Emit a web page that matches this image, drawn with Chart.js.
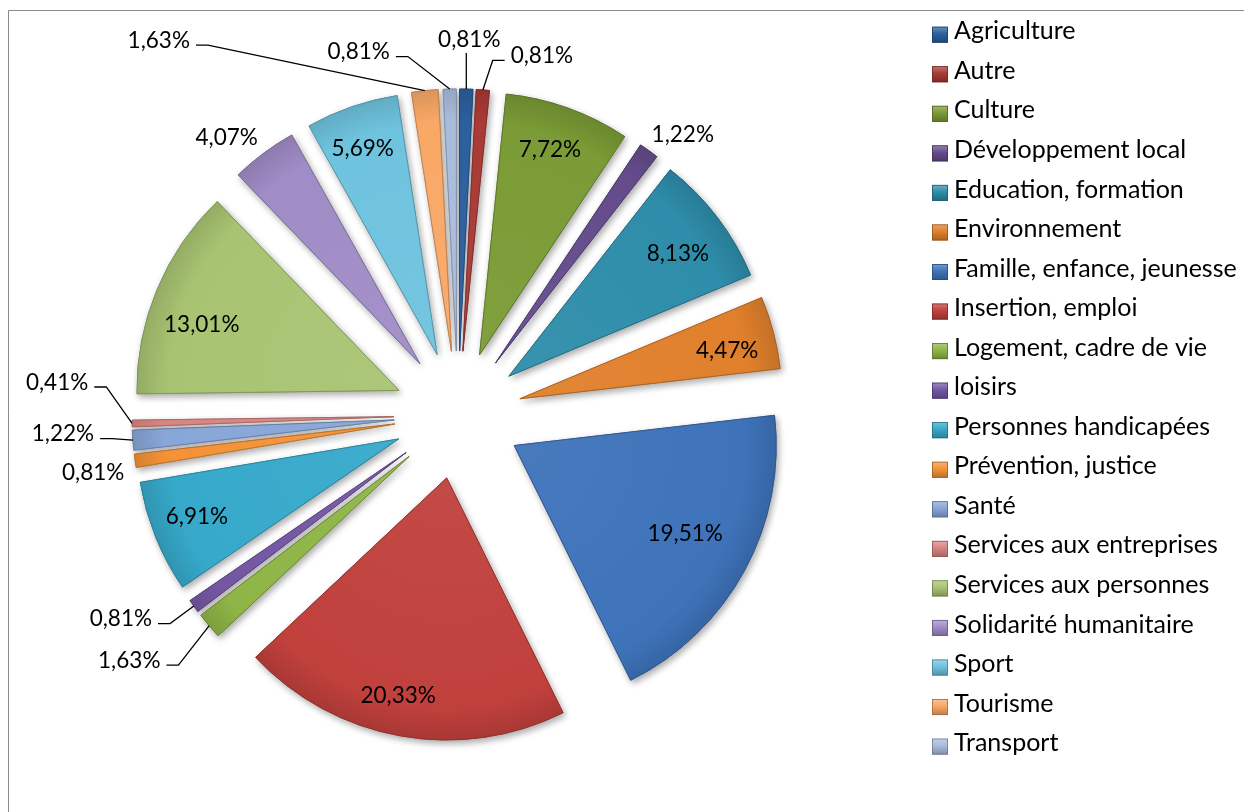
<!DOCTYPE html>
<html>
<head>
<meta charset="utf-8">
<script src="https://cdn.jsdelivr.net/npm/chart.js@4.4.1/dist/chart.umd.min.js"></script>
<style>
  html, body { margin: 0; padding: 0; background: #ffffff; }
  #wrap { position: relative; width: 1244px; height: 812px; }
  canvas { display: block; }
</style>
</head>
<body>
<div id="wrap"><canvas id="c" width="1244" height="812"></canvas></div>
<script>
// ---------- data ----------
const categories = [
  "Agriculture", "Autre", "Culture", "Développement local", "Education, formation",
  "Environnement", "Famille, enfance, jeunesse", "Insertion, emploi", "Logement, cadre de vie",
  "loisirs", "Personnes handicapées", "Prévention, justice", "Santé",
  "Services aux entreprises", "Services aux personnes", "Solidarité humanitaire",
  "Sport", "Tourisme", "Transport"
];
const shares = [0.81, 0.81, 7.72, 1.22, 8.13, 4.47, 19.51, 20.33, 1.63, 0.81, 6.91, 0.81, 1.22, 0.41, 13.01, 4.07, 5.69, 1.63, 0.81];
const sliceColors = [
  "#2C5F9E", "#A93A36", "#7A9B35", "#644C8C", "#2E8DAA",
  "#E0802C", "#3E73BA", "#C0403C", "#8EB546", "#7457A3",
  "#36A9CA", "#F59237", "#88A6D8", "#D98583", "#A8C472",
  "#A08CC6", "#6EC3DE", "#F9A866", "#A9BCDC"
];

// ---------- styling ----------
const FONT = 'Lato, "Open Sans", sans-serif';
const EXPLODE = 64;
const RADIUS = 262;

// label placement: inside -> [radius px from slice tip, angle shift deg]
const insideLabels = {
  2: [218, -0.9], 4: [209, 1.3], 5: [213, 1.35], 6: [192, -1.4],
  7: [222, 2.4], 10: [216, 1], 14: [208, -4.1], 16: [220, -0.75]
};
// outside -> [dx, dy from slice outer point, leader type]
const outsideLabels = {
  0: [3, -50, 'down'], 1: [59, -35, 'right'], 3: [34, -17, null],
  8: [-80, 34, 'left'], 9: [-73, 12, 'left'], 11: [-42, 11, null],
  12: [-70, -7, 'left'], 13: [-75, -42, 'left'], 15: [-37, -16, null],
  17: [-266, -51, 'left'], 18: [-91, -38, 'left']
};

function shade(hex, f) {
  const n = parseInt(hex.slice(1), 16);
  let r = n >> 16, g = (n >> 8) & 255, b = n & 255;
  const t = f < 0 ? 0 : 255, p = Math.abs(f);
  r = Math.round(r + (t - r) * p);
  g = Math.round(g + (t - g) * p);
  b = Math.round(b + (t - b) * p);
  return `rgb(${r},${g},${b})`;
}
function fmt(v) { return v.toFixed(2).replace('.', ',') + '%'; }
function fitSize(ctx, text, target) {
  ctx.save();
  ctx.font = '40px ' + FONT;
  const w = ctx.measureText(text).width;
  ctx.restore();
  return 40 * target / w;
}

const explodePlugin = {
  id: 'explode',
  beforeDatasetDraw(chart, args) {
    const ctx = chart.ctx;
    const arcs = args.meta.data;
    for (let pass = 0; pass < 2; pass++) {
      arcs.forEach(arc => {
        const mid = (arc.startAngle + arc.endAngle) / 2;
        ctx.save();
        ctx.translate(Math.cos(mid) * EXPLODE, Math.sin(mid) * EXPLODE);
        if (pass === 0) {
          ctx.shadowColor = 'rgba(0,0,0,0.35)';
          ctx.shadowBlur = 7;
          ctx.shadowOffsetX = 2;
          ctx.shadowOffsetY = 3;
        }
        arc.draw(ctx);
        ctx.restore();
      });
    }
    return false;
  }
};

const labelPlugin = {
  id: 'pctLabels',
  afterDatasetsDraw(chart) {
    const ctx = chart.ctx;
    const meta = chart.getDatasetMeta(0);
    const size = fitSize(ctx, '20,33%', 75.5);
    const cap = size * 0.36;
    ctx.save();
    ctx.font = size + 'px ' + FONT;
    ctx.fillStyle = '#000';
    ctx.textAlign = 'center';
    ctx.textBaseline = 'alphabetic';
    ctx.strokeStyle = '#000';
    ctx.lineWidth = 1.3;
    meta.data.forEach((arc, i) => {
      const mid = (arc.startAngle + arc.endAngle) / 2;
      const ox = arc.x + Math.cos(mid) * EXPLODE;
      const oy = arc.y + Math.sin(mid) * EXPLODE;
      const text = fmt(shares[i]);
      let lx, ly;
      if (insideLabels[i]) {
        const [r, da] = insideLabels[i];
        const a = mid + da * Math.PI / 180;
        lx = ox + r * Math.cos(a);
        ly = oy + r * Math.sin(a);
      } else if (outsideLabels[i]) {
        const [dx, dy, leader] = outsideLabels[i];
        const ax = ox + arc.outerRadius * Math.cos(mid);
        const ay = oy + arc.outerRadius * Math.sin(mid);
        lx = ax + dx; ly = ay + dy;
        const w = ctx.measureText(text).width;
        if (leader) {
          ctx.beginPath();
          if (leader === 'left') {
            const sx = lx + w / 2 + 6, sy = ly + 5.5;
            ctx.moveTo(sx, sy); ctx.lineTo(sx + 12, sy); ctx.lineTo(ax, ay);
          } else if (leader === 'right') {
            const sx = lx - w / 2 - 6, sy = ly + 5.5;
            ctx.moveTo(sx, sy); ctx.lineTo(sx - 12, sy); ctx.lineTo(ax, ay);
          } else {
            ctx.moveTo(ax, ly + 14); ctx.lineTo(ax, ay);
          }
          ctx.stroke();
        }
      } else {
        return;
      }
      ctx.fillText(text, lx, ly + cap);
    });
    ctx.restore();
  }
};

const framePlugin = {
  id: 'frameLegend',
  afterDraw(chart) {
    const ctx = chart.ctx;
    ctx.save();
    // frame
    ctx.strokeStyle = '#8a8a8a';
    ctx.lineWidth = 1;
    ctx.beginPath();
    ctx.moveTo(8.5, 812); ctx.lineTo(8.5, 10.5); ctx.lineTo(1244, 10.5);
    ctx.stroke();
    // legend
    const size = fitSize(ctx, 'Famille, enfance, jeunesse', 283);
    ctx.font = size + 'px ' + FONT;
    ctx.fillStyle = '#000';
    ctx.textAlign = 'left';
    ctx.textBaseline = 'alphabetic';
    categories.forEach((name, i) => {
      const top = 26.7 + i * 39.55;
      const col = sliceColors[i];
      const g = ctx.createLinearGradient(0, top, 0, top + 16);
      g.addColorStop(0, shade(col, 0.3));
      g.addColorStop(0.45, col);
      g.addColorStop(1, shade(col, -0.25));
      ctx.fillStyle = g;
      ctx.fillRect(932, top, 16, 16);
      ctx.strokeStyle = shade(col, -0.35);
      ctx.lineWidth = 0.8;
      ctx.strokeRect(932.4, top + 0.4, 15.2, 15.2);
      ctx.fillStyle = '#000';
      ctx.fillText(name, 954, top + 12.6);
    });
    ctx.restore();
  }
};

new Chart(document.getElementById('c'), {
  type: 'pie',
  data: {
    labels: categories,
    datasets: [{
      data: shares,
      radius: RADIUS,
      backgroundColor(c) {
        const base = sliceColors[c.dataIndex];
        const area = c.chart.chartArea;
        if (!area) return base;
        const cx = (area.left + area.right) / 2, cy = (area.top + area.bottom) / 2;
        const g = c.chart.ctx.createRadialGradient(cx, cy, 0, cx, cy, RADIUS);
        g.addColorStop(0, shade(base, 0.05));
        g.addColorStop(0.88, base);
        g.addColorStop(1, shade(base, -0.12));
        return g;
      },
      borderColor: sliceColors.map(c => shade(c, -0.25)),
      borderWidth: 0.8
    }]
  },
  options: {
    responsive: false,
    animation: false,
    devicePixelRatio: 1,
    events: [],
    layout: { padding: { left: 0, right: 328, top: 18, bottom: 0 } },
    plugins: { legend: { display: false }, tooltip: { enabled: false } }
  },
  plugins: [explodePlugin, labelPlugin, framePlugin]
});
</script>
</body>
</html>
